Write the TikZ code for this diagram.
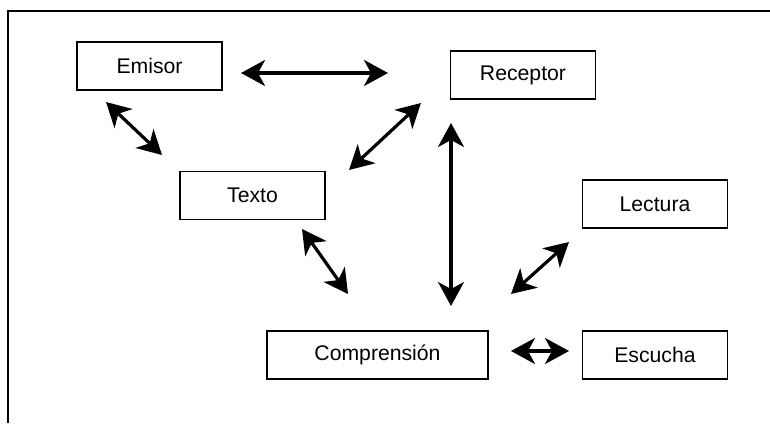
\documentclass[tikz,border=0pt]{standalone}
\usepackage{fontspec}
\setmainfont{Liberation Sans}
\usetikzlibrary{arrows.meta}

\begin{document}
\begin{tikzpicture}
[x=0.5pt,y=-0.5pt,
  boxdecorate/.style={shape=rectangle,draw,line width=0.9pt,inner sep=0pt,%
    minimum width=72.5pt,minimum height=24pt,font=\fontsize{10.6}{12}\selectfont},
  arrowdecorate/.style={{Stealth[length=12pt,width=13pt,inset=3.5pt]}-{Stealth[length=12pt,width=13pt,inset=3.5pt]},
    line width=1.6pt}]
\useasboundingbox (0,0) rectangle (770,423);
%% frame
\draw[line width=1pt] (770,11) -- (8,11) -- (8,423);
%% boxes
\foreach \nodename/\x/\y/\boxwidth/\txt in {
  emisor/149.5/66/72.5pt/Emisor, receptor/523/75/72.5pt/Receptor,
  texto/252.5/195.5/72.5pt/Texto, lectura/655/204/72.5pt/Lectura,
  comprension/377.5/355/110.5pt/Comprensión, escucha/655/355/72.5pt/Escucha} {
  \node (\nodename) at (\x,\y) [boxdecorate,minimum width=\boxwidth] {\txt};
}
%% arrow ends
\foreach \name/\x/\y in {
  er1/241/73, er2/388/73, et1/106/102, et2/162/155,
  rt1/421/103, rt2/349/170, rc1/451/123, rc2/451/306,
  tc1/302/229, tc2/348/294, lc1/569/242, lc2/511/294,
  ce1/511/351, ce2/569/351} {
  \coordinate (\name) at (\x,\y);
}
%% arrows
\path
\foreach \startnode/\endnode in {er1/er2, et1/et2, rt1/rt2, rc1/rc2,
  tc1/tc2, lc1/lc2, ce1/ce2} {
  (\startnode) edge[arrowdecorate] (\endnode)
};
\end{tikzpicture}
\end{document}
